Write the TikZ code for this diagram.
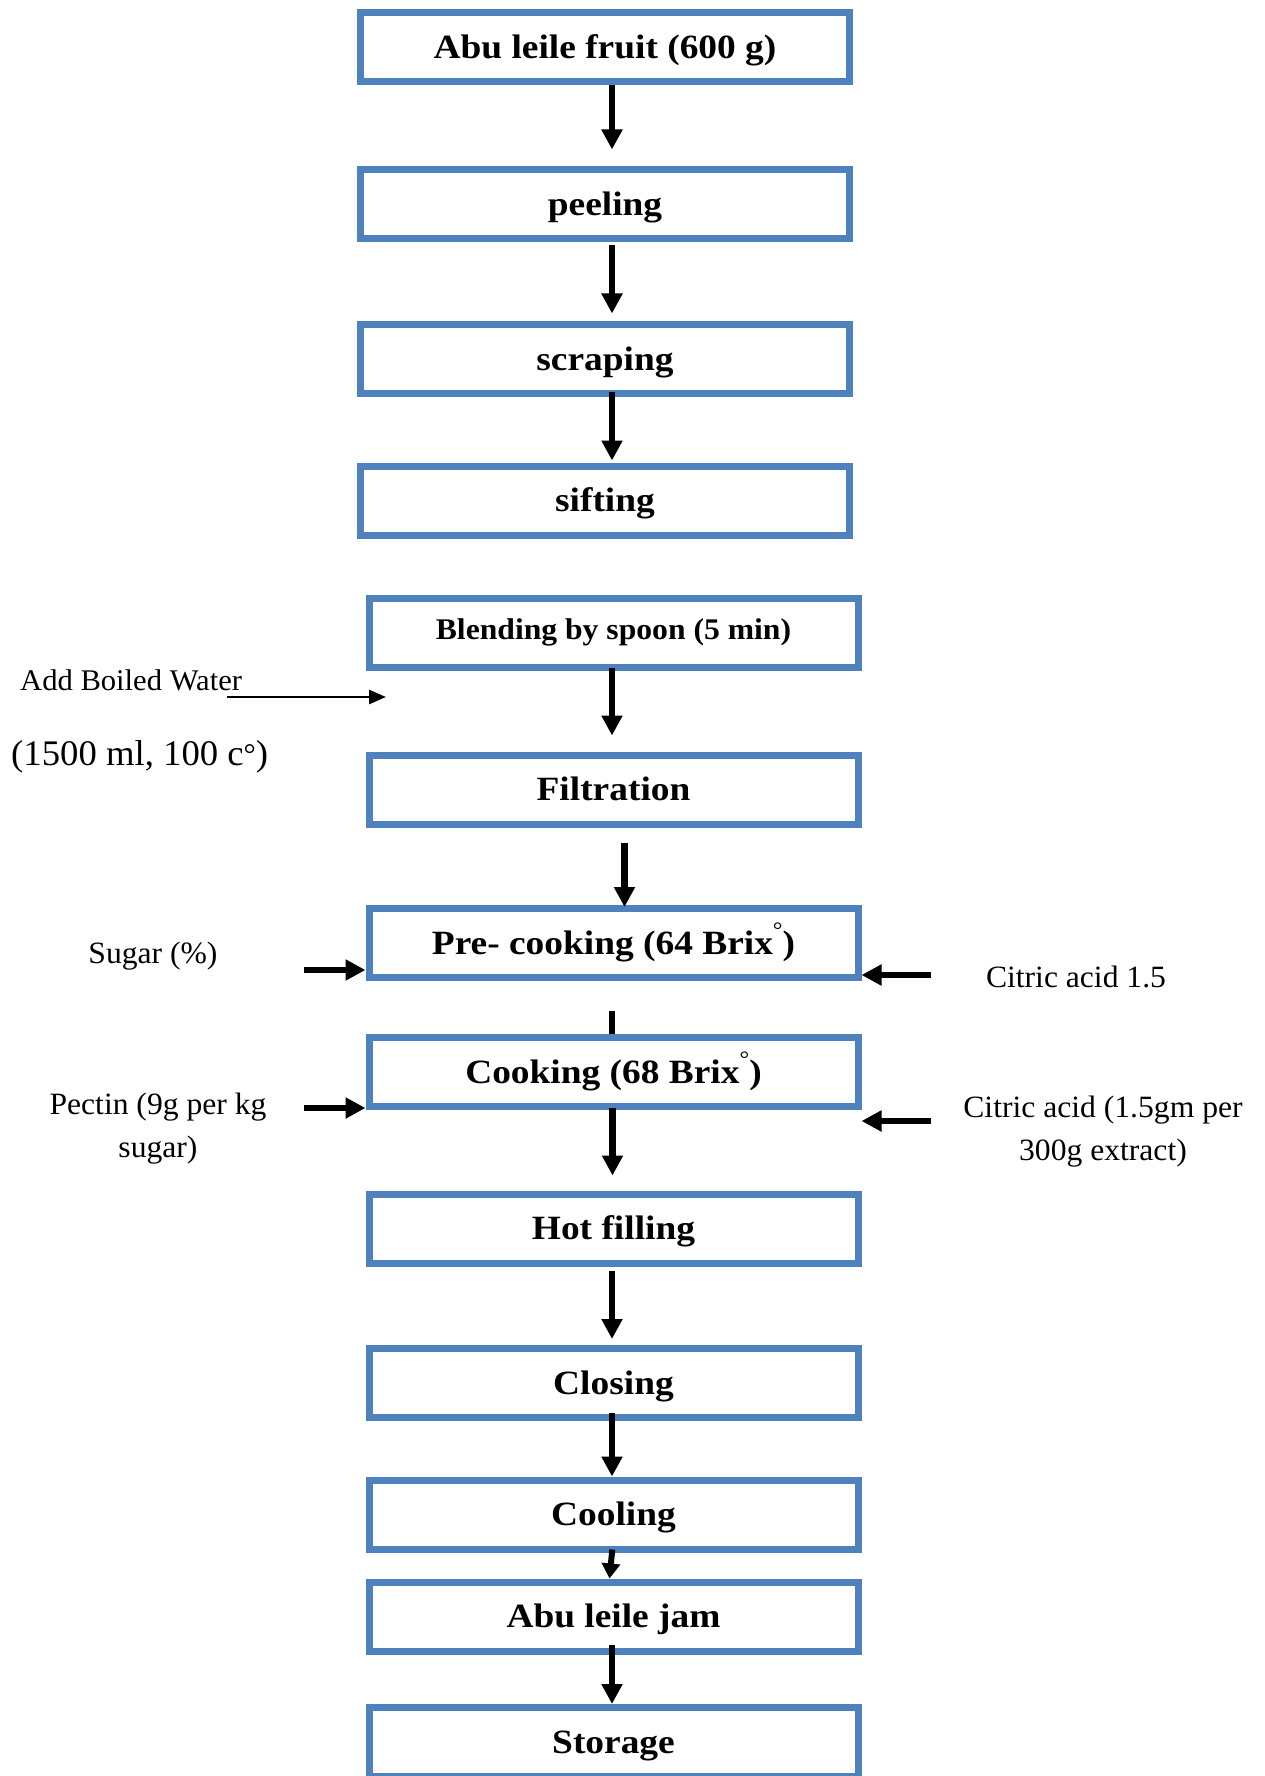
\documentclass[tikz,border=0pt]{standalone}
\usepackage{fontspec}
\setmainfont{Liberation Serif}
\newfontfamily\boxfam[FakeStretch=1.1]{Liberation Serif}
\newfontfamily\blendfam[FakeStretch=1.055]{Liberation Serif}
\newfontfamily\sidefam[FakeStretch=1.02]{Liberation Serif}
\usetikzlibrary{arrows.meta}
\definecolor{boxblue}{RGB}{79,129,189}
\newcommand{\brixring}{\raisebox{17pt}{\fontsize{22}{22}\selectfont\mdseries °}}
\tikzset{
  boxn/.style={draw=boxblue, line width=7pt, minimum width=489pt, minimum height=69pt,
    inner sep=0pt, text height=22.5pt, text depth=0pt,
    font=\boxfam\bfseries\fontsize{34}{40}\selectfont},
  varr/.style={line width=6.5pt, -{Triangle[length=20pt,width=20pt]}},
  sarr/.style={line width=6.7pt, -{Triangle[length=20pt,width=20pt]}},
  tarr/.style={line width=2.7pt, -{Triangle[length=17pt,width=14pt]}},
  sidelab/.style={anchor=base, inner sep=0pt, font=\sidefam\fontsize{31}{36}\selectfont},
}
\begin{document}
\begin{tikzpicture}[x=1pt,y=-1pt]
\useasboundingbox (0,0) rectangle (1264,1776);
\fill[white] (0,0) rectangle (1264,1776);

% boxes
\node[boxn] (b1) at (605,47.5) {Abu leile fruit (600 g)};
\node[boxn] (b2) at (605,204.5) {peeling};
\node[boxn] (b3) at (605,359) {scraping};
\node[boxn] (b4) at (605,500.5) {sifting};
\node[boxn, text height=12pt, font=\blendfam\bfseries\fontsize{30}{36}\selectfont] (b5) at (613.5,633) {Blending by spoon (5 min)};
\node[boxn] (b6) at (613.5,789.5) {Filtration};
\node[boxn] (b7) at (613.5,943) {Pre- cooking (64 Brix\brixring)};
\node[boxn] (b8) at (613.5,1072) {Cooking (68 Brix\brixring)};
\node[boxn] (b9) at (613.5,1228.5) {Hot filling};
\node[boxn] (b10) at (613.5,1383) {Closing};
\node[boxn] (b11) at (613.5,1514.5) {Cooling};
\node[boxn] (b12) at (613.5,1616.5) {Abu leile jam};
\node[boxn] (b13) at (613.5,1742) {Storage};

% side labels
\node[sidelab, anchor=base west, font=\sidefam\fontsize{30}{36}\selectfont] (water) at (20,690) {Add Boiled Water};
\node[sidelab, anchor=base west, font=\sidefam\fontsize{36}{42}\selectfont] (waterq) at (11,765) {(1500 ml, 100 c\raisebox{1pt}{\fontsize{30}{30}\selectfont °})};
\node[sidelab] (sugar) at (153,963) {Sugar (\%)};
\node[sidelab] (cit1) at (1076,987) {Citric acid 1.5};
\node[sidelab] (pect1) at (158,1114) {Pectin (9g per kg};
\node[sidelab] (pect2) at (158,1157) {sugar)};
\node[sidelab] (cit2a) at (1103,1117) {Citric acid (1.5gm per};
\node[sidelab] (cit2b) at (1103,1160) {300g extract)};

% free ends
\coordinate (wS) at (227,697);
\coordinate (wE) at (386,697);
\coordinate (sugS) at (304,970);
\coordinate (c1S) at (931,975);
\coordinate (pecS) at (304,1108);
\coordinate (c2S) at (931,1121);

% input arrows
\draw[tarr] (wS) -- (wE);
\draw[sarr] (sugS) -- (sugS -| b7.west);
\draw[sarr] (c1S) -- (c1S -| b7.east);
\draw[sarr] (pecS) -- (pecS -| b8.west);
\draw[sarr] (c2S) -- (c2S -| b8.east);

% flow arrows
\draw[varr, shorten >=17pt] ([xshift=7pt]b1.south) -- ([xshift=7pt]b2.north);
\draw[varr, shorten <=3pt, shorten >=7.5pt] ([xshift=7pt]b2.south) -- ([xshift=7pt]b3.north);
\draw[varr, shorten <=-5pt, shorten >=2pt] ([xshift=7pt]b3.south) -- ([xshift=7pt]b4.north);
\draw[varr, shorten <=-3pt, shorten >=16pt] ([xshift=-1.5pt]b5.south) -- ([xshift=-1.5pt]b6.north);
\draw[varr, shorten <=15pt, shorten >=-2pt] ([xshift=11pt]b6.south) -- ([xshift=11pt]b7.north);
\draw[line width=6.5pt, shorten <=30pt] ([xshift=-1.5pt]b7.south) -- ([xshift=-1.5pt]b8.north);
\draw[varr, shorten <=-2pt, shorten >=15pt] ([xshift=-1pt]b8.south) -- ([xshift=-1pt]b9.north);
\draw[varr, shorten <=4pt, shorten >=6pt] ([xshift=-1.5pt]b9.south) -- ([xshift=-1.5pt]b10.north);
\draw[varr, shorten <=-8pt] ([xshift=-1.5pt]b10.south) -- ([xshift=-1.5pt]b11.north);
\draw[line width=6pt, -{Triangle[length=15pt,width=18pt]}, shorten <=-3pt] ([xshift=-1.5pt]b11.south) -- ([xshift=-4pt]b12.north);
\draw[varr, shorten <=-10pt] ([xshift=-1.5pt]b12.south) -- ([xshift=-1.5pt]b13.north);
\end{tikzpicture}
\end{document}
